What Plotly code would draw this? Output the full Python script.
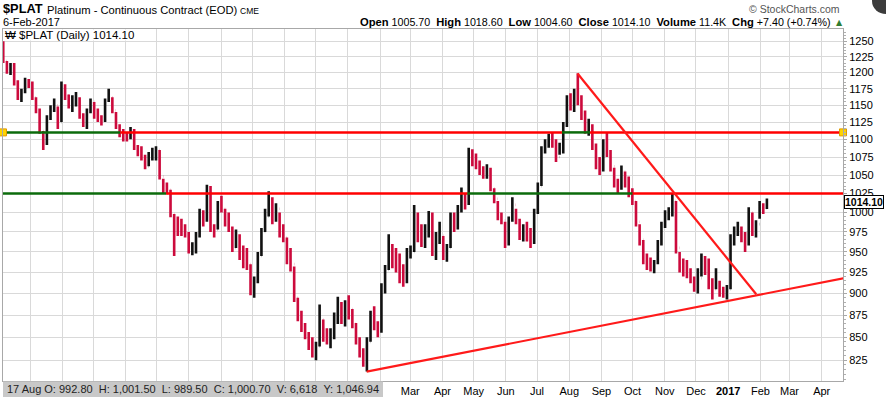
import numpy as np
import pandas as pd
import plotly.graph_objects as go

# ---------------- data ----------------
# two bars per week (Mon-Wed and Wed-Fri), last bar = 6-Feb-2017
tuesdays = pd.date_range("2015-02-03 06:00", periods=105, freq="7D")
fridays = pd.date_range("2015-02-06 18:00", periods=105, freq="7D")
bar_dates = []
for t, f in zip(tuesdays, fridays):
    bar_dates += [t.strftime("%Y-%m-%d %H:%M"), f.strftime("%Y-%m-%d %H:%M")]
bar_dates.append("2017-02-07 06:00")

bar_high = [
    1250, 1218, 1215, 1215, 1188, 1175, 1192, 1190, 1186, 1162,
    1145, 1112, 1135, 1150, 1160, 1148, 1186, 1182, 1166, 1165,
    1170, 1162, 1138, 1145, 1160, 1155, 1145, 1135, 1160, 1175,
    1162, 1140, 1122, 1115, 1110, 1118, 1115, 1092, 1090, 1078,
    1082, 1088, 1090, 1085, 1045, 1040, 1030, 998, 995, 992,
    985, 975, 962, 975, 1005, 1003, 1037, 1035, 985, 1015,
    1022, 1005, 1000, 982, 978, 972, 958, 955, 935, 920,
    950, 980, 1005, 1028, 1020, 1012, 1000, 985, 968, 955,
    932, 895, 880, 866, 856, 850, 845, 887, 870, 860,
    860, 878, 896, 890, 892, 898, 882, 866, 850, 838,
    850, 880, 885, 868, 912, 934, 972, 960, 955, 948,
    935, 955, 958, 1010, 1000, 985, 985, 1002, 1000, 975,
    988, 970, 960, 1000, 1000, 1010, 1033, 1025, 1088, 1086,
    1080, 1070, 1062, 1065, 1060, 1032, 1015, 1000, 988, 995,
    1020, 1005, 992, 985, 988, 980, 1005, 1040, 1090, 1100,
    1108, 1110, 1100, 1095, 1125, 1165, 1168, 1175, 1199, 1165,
    1142, 1130, 1122, 1094, 1075, 1100, 1110, 1085, 1060, 1045,
    1063, 1055, 1048, 1032, 1015, 985, 965, 948, 943, 940,
    965, 988, 1003, 1007, 1025, 1015, 950, 942, 940, 930,
    920, 930, 948, 945, 942, 918, 930, 915, 908, 910,
    972, 982, 988, 982, 975, 1007, 1000, 990, 1015, 1012,
    1018.6,
]
bar_low = [
    1215, 1198, 1196, 1180, 1158, 1155, 1168, 1176, 1158, 1138,
    1108, 1085, 1092, 1128, 1140, 1115, 1125, 1158, 1145, 1140,
    1148, 1130, 1118, 1115, 1138, 1130, 1125, 1120, 1125, 1155,
    1138, 1115, 1103, 1097, 1097, 1100, 1085, 1076, 1070, 1058,
    1062, 1070, 1070, 1044, 1025, 1024, 994, 945, 970, 970,
    968, 948, 946, 948, 968, 982, 988, 975, 968, 978,
    1000, 982, 975, 950, 955, 940, 930, 928, 898, 895,
    912, 945, 975, 995, 985, 988, 968, 962, 935, 926,
    890, 868, 856, 848, 836, 828, 825, 840, 845, 842,
    838, 848, 865, 865, 862, 870, 860, 842, 828, 818,
    813, 845, 858, 850, 855, 900, 928, 930, 925, 912,
    908, 912, 942, 950, 962, 956, 955, 968, 945, 940,
    960, 940, 938, 955, 975, 978, 1000, 1004, 1010, 1062,
    1058, 1050, 1045, 1045, 1028, 1012, 990, 985, 955, 958,
    988, 985, 965, 963, 963, 955, 960, 998, 1035, 1080,
    1088, 1088, 1068, 1078, 1080, 1118, 1142, 1140, 1150, 1128,
    1108, 1105, 1085, 1058, 1050, 1055, 1075, 1055, 1033, 1025,
    1030, 1033, 1020, 1010, 982, 958, 935, 928, 926, 924,
    935, 958, 980, 990, 995, 948, 925, 920, 918, 912,
    902, 900, 920, 922, 905, 893, 905, 896, 895, 893,
    905, 958, 970, 962, 950, 958, 970, 968, 992, 998,
    1004.6,
]
bar_close = [
    1218, 1205, 1210, 1185, 1162, 1172, 1188, 1182, 1162, 1142,
    1112, 1095, 1130, 1145, 1150, 1125, 1180, 1165, 1150, 1158,
    1160, 1135, 1125, 1140, 1155, 1135, 1130, 1128, 1158, 1162,
    1142, 1120, 1108, 1105, 1105, 1112, 1090, 1082, 1075, 1062,
    1078, 1080, 1085, 1048, 1035, 1030, 998, 985, 985, 978,
    972, 952, 955, 970, 998, 990, 1030, 980, 978, 1010,
    1005, 988, 980, 955, 970, 950, 940, 935, 905, 915,
    945, 975, 995, 1010, 995, 1005, 975, 968, 950, 935,
    895, 875, 862, 852, 842, 835, 840, 870, 850, 848,
    852, 872, 880, 872, 885, 882, 865, 848, 835, 822,
    845, 870, 865, 858, 905, 928, 950, 940, 935, 918,
    915, 948, 950, 995, 970, 965, 975, 995, 950, 965,
    970, 945, 955, 990, 985, 1005, 1020, 1015, 1080, 1070,
    1065, 1058, 1052, 1058, 1032, 1018, 998, 990, 960, 990,
    1010, 990, 970, 978, 968, 965, 1000, 1035, 1085, 1092,
    1100, 1095, 1075, 1088, 1120, 1155, 1150, 1170, 1160, 1135,
    1118, 1120, 1090, 1072, 1058, 1095, 1080, 1062, 1040, 1035,
    1055, 1040, 1030, 1015, 988, 965, 942, 935, 935, 938,
    960, 982, 995, 1000, 1015, 955, 932, 928, 925, 915,
    908, 918, 935, 930, 915, 905, 912, 902, 900, 905,
    965, 975, 978, 968, 960, 1000, 975, 985, 1010, 1006,
    1014.1,
]
first_open = 1245
bar_open = [first_open] + bar_close[:-1]

# horizontal levels (price) and where their colour changes
upper_level = 1110
upper_breaks = ["2015-02-03", "2015-05-27", "2016-07-25", "2016-08-21", "2017-04-21 12:00"]
lower_level = 1025
lower_breaks = ["2015-02-03", "2015-07-10", "2016-04-25", "2016-10-01", "2017-04-21 12:00"]
segment_colors = ["#0b6b0b", "#ff0000", "#0b6b0b", "#ff0000"]

# trend lines
down_x = ["2016-08-09", "2017-01-28"]
down_y = [1198.5, 899]
up_x = ["2016-01-19", "2017-04-28"]
up_y = [812.8, 919.4]

y_ticks = [825, 850, 875, 900, 925, 950, 975, 1000, 1025, 1050, 1075, 1100,
           1125, 1150, 1175, 1200, 1225, 1250]
month_ticks = list(pd.date_range("2015-03-01", "2017-04-01", freq="MS").strftime("%Y-%m-%d"))
month_text = ["", "", "", "", "", "", "", "", "", "", "", "", "Mar", "Apr", "May", "Jun",
              "Jul", "Aug", "Sep", "Oct", "Nov", "Dec", "<b>2017</b>", "Feb", "Mar", "Apr"]

x_range = ["2015-02-03", "2017-04-21 12:00"]
y_range = [803, 1270]

FONT = "Liberation Sans, Arial, sans-serif"

fig = go.Figure()

fig.add_trace(go.Ohlc(
    x=bar_dates, open=bar_open, high=bar_high, low=bar_low, close=bar_close,
    increasing=dict(line=dict(color="#111111", width=2.6)),
    decreasing=dict(line=dict(color="#cc0a3c", width=2.6)),
    tickwidth=0.05, hoverinfo="skip", showlegend=False,
))

for level, breaks in ((upper_level, upper_breaks), (lower_level, lower_breaks)):
    for i, col in enumerate(segment_colors):
        fig.add_trace(go.Scatter(
            x=[breaks[i], breaks[i + 1]], y=[level, level], mode="lines",
            line=dict(color=col, width=2.5), hoverinfo="skip", showlegend=False))

fig.add_trace(go.Scatter(x=down_x, y=down_y, mode="lines", line=dict(color="#ff1a1a", width=2.2),
                         hoverinfo="skip", showlegend=False))
fig.add_trace(go.Scatter(x=up_x, y=up_y, mode="lines", line=dict(color="#ff1a1a", width=2.2),
                         hoverinfo="skip", showlegend=False))

fig.add_trace(go.Scatter(
    x=[x_range[0], x_range[1]], y=[upper_level, upper_level], mode="markers",
    marker=dict(symbol="square", size=7, color="#ffd400", line=dict(color="#e09a00", width=1)),
    cliponaxis=False, hoverinfo="skip", showlegend=False))

fig.update_layout(
    width=886, height=398,
    margin=dict(l=3, r=43, t=29, b=17, autoexpand=False),
    paper_bgcolor="white", plot_bgcolor="white",
    font=dict(family=FONT, size=11, color="black"),
    showlegend=False,
    xaxis=dict(
        type="date", range=x_range, rangeslider=dict(visible=False), automargin=False,
        tickmode="array", tickvals=month_ticks, ticktext=month_text,
        showgrid=True, gridcolor="#d9d9d9", gridwidth=1,
        showline=True, linecolor="#a8a8a8", mirror=True,
        ticks="", tickfont=dict(size=11, color="black"),
    ),
    yaxis=dict(
        type="log", range=[np.log10(y_range[0]), np.log10(y_range[1])], side="right",
        automargin=False,
        tickmode="array", tickvals=y_ticks, ticktext=[str(v) for v in y_ticks],
        showgrid=True, gridcolor="#d9d9d9", gridwidth=1,
        showline=True, linecolor="#a8a8a8", mirror=True,
        ticks="outside", ticklen=3, tickcolor="#a8a8a8",
        minor=dict(tickmode="array", tickvals=list(range(805, 1270, 5)), ticks="outside",
                   ticklen=2, tickcolor="#b0b0b0", showgrid=False),
        tickfont=dict(size=11, color="black"),
    ),
)

def px2x(px):
    return (px - 3) / 840.0

def py2y(py):
    return (381 - py) / 352.0

NB = "&nbsp;"
ann = []
ann.append(dict(text="<b>$PLAT</b>", x=px2x(1), y=py2y(9), xanchor="left", yanchor="middle",
                font=dict(size=12.8, family=FONT)))
ann.append(dict(text="Platinum - Continuous Contract (EOD)", x=px2x(45), y=py2y(10), xanchor="left",
                yanchor="middle", font=dict(size=11.2, family=FONT)))
ann.append(dict(text="CME", x=px2x(238), y=py2y(10.5), xanchor="left", yanchor="middle",
                font=dict(size=8.5, family=FONT)))
ann.append(dict(text="6-Feb-2017", x=px2x(1), y=py2y(22.5), xanchor="left", yanchor="middle",
                font=dict(size=11, family=FONT)))
lab = lambda s: "<span style='font-size:11.2px'><b>%s</b></span>" % s
info = (lab("Open") + NB + "1005.70" + NB * 2 + lab("High") + NB + "1018.60" + NB * 2 +
        lab("Low") + NB + "1004.60" + NB * 2 + lab("Close") + NB + "1014.10" + NB * 2 +
        lab("Volume") + NB + "11.4K" + NB * 2 + lab("Chg") + NB + "+7.40 (+0.74%)")
ann.append(dict(text=info, x=px2x(833), y=py2y(22.5), xanchor="right", yanchor="middle",
                font=dict(size=10.7, family=FONT)))
ann.append(dict(text="▲", x=px2x(834), y=py2y(22), xanchor="left", yanchor="middle",
                font=dict(size=8, color="#2f7d32", family="DejaVu Sans")))
ann.append(dict(text="© StockCharts.com", x=px2x(842), y=py2y(9), xanchor="right", yanchor="middle",
                font=dict(size=10.5, color="#555555", family=FONT)))
ann.append(dict(text="₩ $PLAT (Daily) 1014.10", x=px2x(3), y=py2y(34.5), xanchor="left",
                yanchor="middle", font=dict(size=11.5, family=FONT)))
ann.append(dict(text="17 Aug O: 992.80" + NB * 2 + "H: 1,001.50" + NB * 2 + "L: 989.50" + NB * 2 +
                "C: 1,000.70" + NB * 2 + "V: 6,618" + NB * 2 + "Y: 1,046.94",
                x=px2x(5), y=py2y(389), xanchor="left", yanchor="middle",
                font=dict(size=11, color="#222222", family=FONT)))
ann.append(dict(text="<b>1014.10</b>", x=px2x(844), y=np.log10(1014.1), yref="y", xref="paper",
                xanchor="left", yanchor="middle", showarrow=False, bgcolor="white",
                bordercolor="black", borderwidth=1, borderpad=0, font=dict(size=10.5, family=FONT)))
for a in ann:
    a.setdefault("xref", "paper")
    a.setdefault("yref", "paper")
    a.setdefault("showarrow", False)
fig.update_layout(annotations=ann)

fig.update_layout(shapes=[
    dict(type="rect", xref="paper", yref="paper", x0=px2x(3), x1=px2x(383), y0=py2y(397),
         y1=py2y(381.5), fillcolor="#c8c8c8", line=dict(width=0), layer="above"),
    dict(type="rect", xref="paper", yref="paper", x0=px2x(3.5), x1=px2x(150), y0=py2y(40.5),
         y1=py2y(29.5), fillcolor="white", line=dict(width=0), layer="above"),
    dict(type="circle", xref="paper", yref="paper", x0=px2x(872), x1=px2x(900), y0=py2y(14),
         y1=py2y(-12), fillcolor="#3c3c3c", line=dict(width=0)),
])

fig.write_html("out.html", config={"displayModeBar": False},
               post_script="document.body.style.margin='0px';document.body.style.overflow='hidden';")
